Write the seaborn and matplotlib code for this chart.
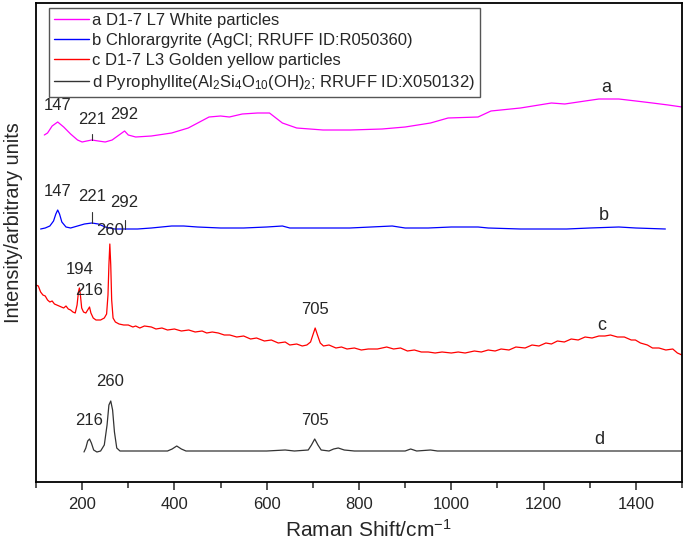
import numpy as np
import pandas as pd
import matplotlib
matplotlib.use("Agg")
import matplotlib.pyplot as plt
import seaborn as sns
from matplotlib.ticker import MultipleLocator

# ---------------- data (Raman shift cm^-1, relative intensity) ----------------
a_x = [118, 125, 135, 147, 160, 175, 190, 200, 210, 221, 235, 250, 265, 280, 292, 300, 316, 350, 394, 430,
       475, 500, 519, 547, 580, 606, 620, 634, 665, 722, 781, 850, 900, 955, 993, 1058, 1086, 1150, 1217,
       1246, 1290, 1320, 1363, 1400, 1436, 1470, 1500]
a_y = [347, 349, 356, 360, 355, 348, 342, 340, 341, 342, 341, 340, 342, 347, 351, 347, 345, 346, 349, 354,
       365, 366, 365, 368, 369, 369, 364, 359, 354, 352, 352, 353, 355, 359, 364, 365, 371, 374, 379,
       378, 381, 383, 383, 381, 379, 377, 375]

b_x = [110, 120, 130, 138, 143, 147, 151, 156, 165, 175, 190, 205, 221, 235, 250, 270, 292, 320, 350, 394,
       420, 450, 500, 550, 600, 634, 650, 700, 780, 872, 900, 950, 1000, 1058, 1080, 1150, 1250, 1300,
       1363, 1400, 1464]
b_y = [253, 254, 256, 261, 268, 272, 268, 260, 255, 254, 256, 258, 259, 258, 255, 253, 253, 253, 254, 256,
       256, 255, 254, 254, 255, 256, 254, 254, 254, 256, 254, 254, 255, 255, 254, 253, 253, 254,
       255, 254, 253]

c_x = [100, 105, 110, 115, 120, 125, 130, 135, 140, 145, 150, 155, 160, 165, 170, 175, 180, 185, 189, 192,
       194, 196, 199, 203, 208, 212, 216, 219, 224, 230, 240, 248, 253, 256, 258, 260, 262, 264, 267, 272,
       280, 290, 300, 310, 316, 325, 335, 350, 360, 373, 385, 400, 415, 431, 445, 460, 470, 482, 495, 508,
       520, 535, 550, 565, 578, 595, 610, 625, 640, 650, 665, 677, 687, 695, 700, 705, 710, 716, 723, 735,
       750, 762, 774, 790, 805, 820, 840, 860, 875, 890, 905, 920, 935, 950, 965, 980, 1000, 1015, 1030,
       1050, 1065, 1080, 1095, 1108, 1125, 1140, 1160, 1175, 1190, 1205, 1217, 1230, 1245, 1260, 1275,
       1290, 1305, 1320, 1333, 1345, 1360, 1375, 1390, 1399, 1410, 1425, 1436, 1450, 1465, 1480, 1490, 1500]
c_y = [197, 196, 190, 187, 186, 182, 180, 181, 178, 177, 176, 175, 174, 176, 173, 172, 170, 169, 177, 190,
       194, 188, 174, 170, 169, 172, 175, 169, 164, 162, 162, 164, 168, 187, 217, 238, 217, 182, 164, 160,
       158, 157, 157, 155, 156, 154, 156, 155, 153, 154, 152, 153, 151, 152, 150, 151, 149, 150, 149, 147,
       147, 145, 146, 143, 144, 141, 142, 139, 140, 137, 138, 136, 137, 140, 147, 154, 147, 139, 136, 137,
       134, 135, 133, 134, 132, 133, 133, 135, 133, 134, 131, 132, 130, 130, 129, 130, 129, 130, 129,
       131, 130, 132, 131, 133, 132, 135, 134, 137, 136, 139, 138, 141, 140, 143, 142,
       145, 144, 146, 146, 147, 145, 145, 142, 142, 139, 137, 134, 134, 132, 133, 129, 127]

d_x = [204, 208, 212, 216, 220, 225, 232, 240, 248, 254, 258, 262, 266, 270, 275, 282, 300, 350, 385, 395,
       405, 415, 425, 500, 600, 640, 660, 690, 697, 704, 711, 718, 735, 745, 755, 768, 790, 850, 900, 912,
       925, 955, 970, 1100, 1300, 1500]
d_y = [30, 34, 41, 43, 39, 32, 30, 31, 37, 57, 77, 81, 72, 50, 34, 31, 31, 31, 31, 33,
       36, 33, 31, 31, 31, 32, 31, 32, 37, 43, 37, 32, 31, 33, 34, 32, 31, 31, 31, 33,
       31, 32, 31, 31, 31, 31]

series_labels = [
    "a D1-7 L7 White particles",
    "b Chlorargyrite (AgCl; RRUFF ID:R050360)",
    "c D1-7 L3 Golden yellow particles",
    "d Pyrophyllite(Al$_2$Si$_4$O$_{10}$(OH)$_2$; RRUFF ID:X050132)",
]
series_colors = ["#FF00FF", "#0000FF", "#FF0000", "#333333"]

# peak annotations: (text, x, y)
peak_labels = [
    ("147", 147, 369), ("221", 221, 355), ("292", 292, 360),
    ("147", 147, 283), ("221", 221, 278), ("292", 292, 272),
    ("194", 194, 205), ("216", 216, 184), ("260", 260, 244), ("705", 705, 165),
    ("216", 216, 54), ("260", 260, 93), ("705", 705, 54),
]
curve_letters = [("a", 1335, 395), ("b", 1330, 267), ("c", 1325, 157), ("d", 1320, 42)]
marker_lines = [(221, 342, 348), (221, 259, 270), (292, 253, 262)]

# ---------------- plotting ----------------
sns.set_style("ticks")
plt.rcParams["font.family"] = ["Liberation Sans", "DejaVu Sans"]
plt.rcParams["mathtext.fontset"] = "custom"
plt.rcParams["mathtext.rm"] = "Liberation Sans"
plt.rcParams["mathtext.it"] = "Liberation Sans:italic"

fig = plt.figure(figsize=(6.85, 5.46), dpi=100)
ax = fig.add_axes([36 / 685, 64 / 546, 646 / 685, 479 / 546])

frames = []
for xs, ys, lab in zip([a_x, b_x, c_x, d_x], [a_y, b_y, c_y, d_y], series_labels):
    frames.append(pd.DataFrame({"shift": xs, "intensity": ys, "series": lab}))
df = pd.concat(frames, ignore_index=True)

sns.lineplot(data=df, x="shift", y="intensity", hue="series", hue_order=series_labels,
             palette=series_colors, sort=False, estimator=None, linewidth=0.9, ax=ax)

for txt, x, y in peak_labels:
    ax.text(x, y, txt, ha="center", va="bottom", fontsize=12)
for txt, x, y in curve_letters:
    ax.text(x, y, txt, ha="center", va="center", fontsize=13)
for x, y0, y1 in marker_lines:
    ax.plot([x, x], [y0, y1], color="#333333", lw=0.8)

ax.set_xlim(100, 1500)
ax.set_ylim(0, 479)
ax.set_yticks([])
ax.xaxis.set_major_locator(MultipleLocator(200))
ax.xaxis.set_minor_locator(MultipleLocator(100))
ax.tick_params(axis="x", which="major", direction="out", length=6, width=1.1, labelsize=12, pad=5)
ax.tick_params(axis="x", which="minor", direction="out", length=4, width=1.1)
ax.set_xticks([200, 400, 600, 800, 1000, 1200, 1400])
for sp in ax.spines.values():
    sp.set_visible(True)
    sp.set_linewidth(1.3)
    sp.set_color("black")
ax.set_xlabel("")
ax.set_ylabel("")

fig.text(368 / 685, 1 - 530 / 546, "Raman Shift/cm$^{-1}$", ha="center", va="center", fontsize=15)
fig.text(14 / 685, 1 - 223 / 546, "Intensity/arbitrary units", ha="center", va="center",
         rotation=90, fontsize=14.3)

handles, labels = ax.get_legend_handles_labels()
leg = ax.legend(handles, labels, loc="upper left", bbox_to_anchor=(49 / 685, 1 - 8 / 546),
                bbox_transform=fig.transFigure, borderaxespad=0, fontsize=11.95,
                labelspacing=0.3, handlelength=2.1, handletextpad=0.2, borderpad=0.3,
                fancybox=False, framealpha=1, edgecolor="#555555")
leg.get_frame().set_linewidth(1.0)
for ln in leg.get_lines():
    ln.set_linewidth(1.0)

fig.savefig("out.png", dpi=100)
